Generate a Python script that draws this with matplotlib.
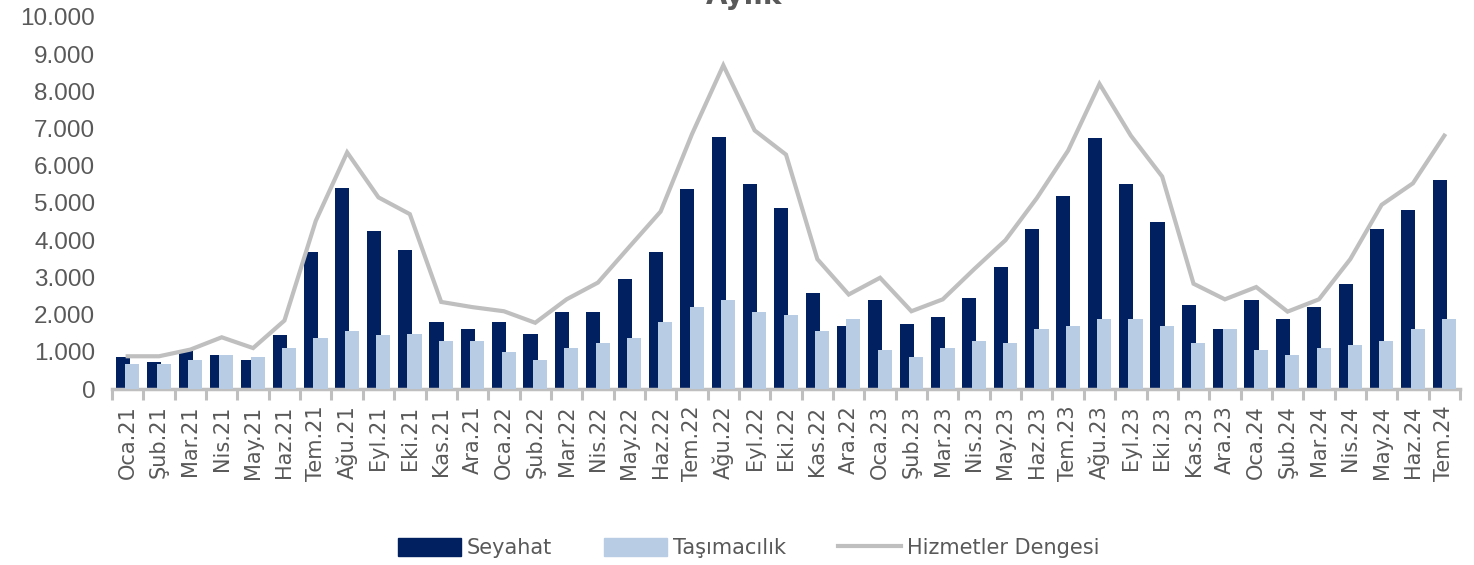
import matplotlib.pyplot as plt
import numpy as np
from matplotlib.patches import Patch
from matplotlib.lines import Line2D

months = ['Oca', 'Şub', 'Mar', 'Nis', 'May', 'Haz', 'Tem', 'Ağu', 'Eyl', 'Eki', 'Kas', 'Ara']
labels = [m + '.' + y for y in ['21', '22', '23', '24'] for m in months][:43]

seyahat = [850, 730, 1030, 925, 790, 1440, 3670, 5390, 4250, 3730, 1810, 1620,
           1810, 1490, 2070, 2070, 2970, 3670, 5370, 6780, 5510, 4860, 2570, 1690,
           2380, 1750, 1940, 2450, 3280, 4290, 5190, 6740, 5510, 4490, 2260, 1620,
           2380, 1870, 2200, 2830, 4290, 4810, 5620]
tasimacilik = [660, 660, 790, 925, 850, 1100, 1360, 1550, 1440, 1490, 1300, 1300,
               990, 790, 1100, 1240, 1360, 1810, 2200, 2380, 2070, 2000, 1550, 1870,
               1040, 850, 1100, 1300, 1240, 1620, 1690, 1870, 1870, 1690, 1240, 1620,
               1040, 910, 1100, 1170, 1300, 1620, 1870]
hizmetler = [880, 880, 1060, 1390, 1100, 1840, 4520, 6360, 5150, 4700, 2340, 2200,
             2090, 1780, 2410, 2860, 3820, 4770, 6850, 8700, 6950, 6300, 3490, 2540,
             2990, 2090, 2410, 3220, 4000, 5130, 6410, 8200, 6810, 5710, 2830, 2410,
             2740, 2080, 2410, 3490, 4950, 5530, 6810]

dark = '#002060'
light = '#B8CCE4'
grey = '#BFBFBF'
txt = '#595959'

fig = plt.figure(figsize=(14.74, 5.65), dpi=100)
ax = fig.add_axes([0.076, 0.3115, 0.9145, 0.6585])

x = np.arange(len(labels))
ax.bar(x - 0.15, seyahat, 0.45, color=dark, zorder=2)
ax.bar(x + 0.15, tasimacilik, 0.45, color=light, zorder=3)
ax.plot(x, hizmetler, color=grey, linewidth=3, zorder=4, solid_joinstyle='miter')

ax.set_xlim(-0.5, len(labels) - 0.5)
ax.set_ylim(0, 10000)
ax.set_yticks(range(0, 10001, 1000))
ax.set_yticklabels(['0'] + ['{:,}'.format(v).replace(',', '.') for v in range(1000, 10001, 1000)],
                   fontsize=17.5, color=txt, family='Liberation Sans')
ax.tick_params(axis='y', length=0, pad=12)

ax.set_xticks(x)
ax.set_xticklabels(labels, rotation=90, fontsize=15, color=txt)
ax.tick_params(axis='x', which='major', length=0, pad=12)
ax.set_xticks(np.arange(-0.5, len(labels), 1), minor=True)
ax.tick_params(axis='x', which='minor', length=8, width=2.2, color=grey)

for s in ['top', 'right', 'left']:
    ax.spines[s].set_visible(False)
ax.spines['bottom'].set_color(grey)
ax.spines['bottom'].set_linewidth(2.5)

fig.text(0.505, 0.993, 'Aylık', ha='center', va='baseline', fontsize=20,
         fontweight='bold', color=txt)

handles = [Patch(color=dark), Patch(color=light), Line2D([0], [0], color=grey, linewidth=3)]
fig.legend(handles, ['Seyahat', 'Taşımacılık', 'Hizmetler Dengesi'], loc='center',
           bbox_to_anchor=(0.508, 0.03), ncol=3, frameon=False, fontsize=15,
           handlelength=3.0, handleheight=1.0, columnspacing=2.5, handletextpad=0.3,
           labelcolor=txt)

fig.savefig('out.png', dpi=100)
